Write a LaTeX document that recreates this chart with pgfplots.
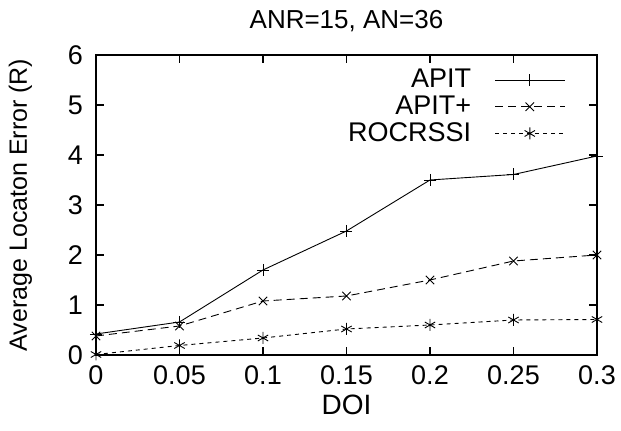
\documentclass[border=0pt]{standalone}
\usepackage{fontspec}
\setmainfont{Liberation Sans}
\usepackage{pgfplots}
\pgfplotsset{compat=1.18}
\begin{document}
\begin{tikzpicture}
\begin{axis}[
  scale only axis,
  width=250.5pt, height=150pt,
  xmin=0, xmax=0.3, ymin=0, ymax=6,
  xtick={0,0.05,0.1,0.15,0.2,0.25,0.3},
  xticklabels={0,0.05,0.1,0.15,0.2,0.25,0.3},
  ytick={0,1,2,3,4,5,6},
  /pgf/number format/assume math mode=true,
  tick align=inside,
  major tick length=4pt,
  tick style={line width=0.6pt,black},
  axis line style={line width=0.9pt},
  ticklabel style={font=\fontsize{13.5}{14}\selectfont},
  xticklabel style={yshift=-2pt},
  yticklabel style={xshift=-3pt},
  title={ANR=15, AN=36},
  title style={font=\fontsize{13}{14}\selectfont, yshift=2pt},
  xlabel={DOI},
  ylabel={Average Locaton Error (R)},
  xlabel style={font=\fontsize{14}{15}\selectfont, yshift=2pt},
  ylabel style={font=\fontsize{12.5}{13}\selectfont, yshift=11pt},
  legend style={draw=none, fill=none, at={(0.94,0.97)}, anchor=north east,
    font=\fontsize{13.5}{14}\selectfont, row sep=-1.5pt, inner sep=0.5pt},
  legend cell align=right,
  legend plot pos=right,
  legend image code/.code={
    \path[draw=none] (0cm,0cm) -- (0.35cm,0cm);
    \draw[#1] (0.35cm,0cm) -- (1.58cm,0cm);
    \draw[#1,solid] plot coordinates {(0.96cm,0cm)};
  },
]
\addplot[black, line width=0.45pt, mark=+, mark size=3pt] coordinates {
(0,0.42) (0.05,0.66) (0.1,1.70) (0.15,2.48) (0.2,3.50) (0.25,3.61) (0.3,3.98)};
\addlegendentry{APIT}
\addplot[black, line width=0.45pt, dash pattern=on 4pt off 2.5pt, mark=x, mark size=3pt, mark options={solid}] coordinates {
(0,0.38) (0.05,0.58) (0.1,1.08) (0.15,1.18) (0.2,1.50) (0.25,1.88) (0.3,2.00)};
\addlegendentry{APIT+}
\addplot[black, line width=0.45pt, dash pattern=on 2pt off 2pt, mark=asterisk, mark size=3pt, mark options={solid}] coordinates {
(0,0.01) (0.05,0.19) (0.1,0.34) (0.15,0.52) (0.2,0.60) (0.25,0.70) (0.3,0.71)};
\addlegendentry{ROCRSSI}
\end{axis}
\pgfresetboundingbox
\path (-48pt,-38pt) rectangle (262.5pt,177.5pt);
\end{tikzpicture}
\end{document}
